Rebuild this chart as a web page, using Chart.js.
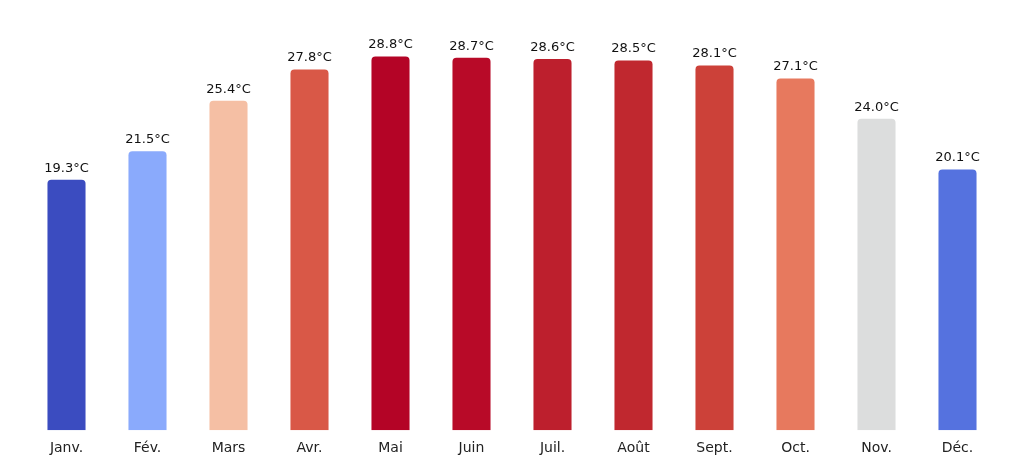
<!DOCTYPE html>
<html><head><meta charset="utf-8">
<script src="https://cdn.jsdelivr.net/npm/chart.js@4"></script>
<style>html,body{margin:0;padding:0;background:#fff}#c{width:1024px;height:465px}</style>
</head><body><div id="c"><canvas id="cv"></canvas></div>
<script>
const months = ["Janv.","Fév.","Mars","Avr.","Mai","Juin","Juil.","Août","Sept.","Oct.","Nov.","Déc."];
const temps = [19.3,21.5,25.4,27.8,28.8,28.7,28.6,28.5,28.1,27.1,24.0,20.1];
const colors = ["#3b4cc0","#8aaafc","#f5bfa4","#d95847","#b40426","#b80a28","#bd1f2d","#c0282f","#cc4139","#e7795e","#dcdddd","#5572df"];
const labelPlugin = {
  id:'lbl',
  afterDatasetsDraw(chart){
    const ctx = chart.ctx;
    const meta = chart.getDatasetMeta(0);
    ctx.save();
    ctx.font = '13px "DejaVu Sans"';
    ctx.fillStyle = '#111';
    ctx.textAlign = 'center';
    ctx.textBaseline = 'bottom';
    meta.data.forEach((b,i)=>{ ctx.fillText(temps[i].toFixed(1)+'°C', b.x, b.y-5); });
    ctx.restore();
  }
};
new Chart(document.getElementById('cv'),{
  type:'bar',
  data:{labels:months,datasets:[{data:temps,backgroundColor:colors,borderRadius:{topLeft:4,topRight:4},borderSkipped:'bottom',categoryPercentage:0.47,barPercentage:1}]},
  options:{
    responsive:true,maintainAspectRatio:false,animation:false,
    layout:{padding:{left:26,right:26,top:15,bottom:6}},
    plugins:{legend:{display:false},tooltip:{enabled:false}},
    scales:{
      x:{grid:{display:false},border:{display:false},ticks:{color:'#222',font:{family:'DejaVu Sans',size:14},padding:2}},
      y:{display:false,min:0,max:32}
    }
  },
  plugins:[labelPlugin]
});
</script></body></html>
